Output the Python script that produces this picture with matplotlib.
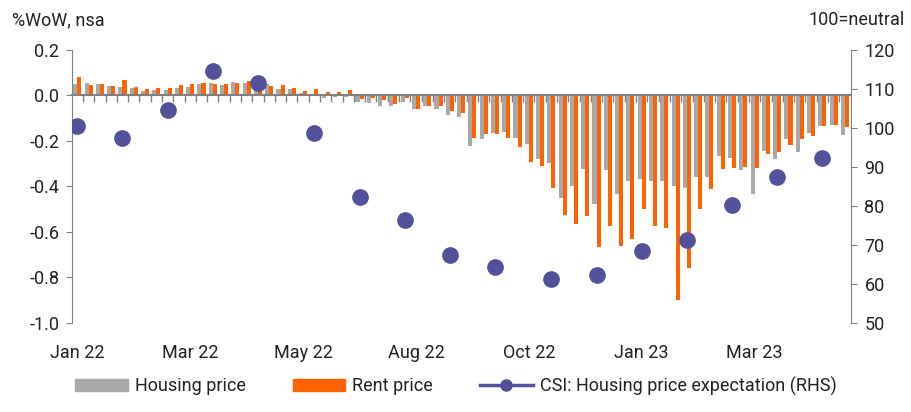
import matplotlib
matplotlib.use("Agg")
import matplotlib.pyplot as plt
import numpy as np
from matplotlib.patches import Patch
from matplotlib.lines import Line2D

# weekly % change, not seasonally adjusted
housing = [0.050, 0.054, 0.050, 0.041, 0.037, 0.032, 0.019, 0.024, 0.024, 0.032,
           0.037, 0.050, 0.054, 0.046, 0.059, 0.054, 0.040, 0.050, 0.028, 0.028,
           0.010, 0.006, -0.012, -0.007, -0.006, -0.029, -0.034, -0.047, -0.047, -0.029,
           -0.060, -0.047, -0.060, -0.087, -0.096, -0.224, -0.193, -0.166, -0.162, -0.188,
           -0.215, -0.281, -0.299, -0.453, -0.396, -0.325, -0.479, -0.329, -0.435, -0.374,
           -0.369, -0.378, -0.378, -0.396, -0.409, -0.360, -0.360, -0.268, -0.276, -0.329,
           -0.435, -0.246, -0.281, -0.193, -0.250, -0.166, -0.135, -0.131, -0.175]
rent = [0.081, 0.046, 0.050, 0.041, 0.068, 0.037, 0.028, 0.032, 0.032, 0.046,
        0.050, 0.054, 0.050, 0.050, 0.054, 0.062, 0.050, 0.041, 0.046, 0.032,
        0.019, 0.028, 0.015, 0.015, 0.024, -0.016, -0.012, -0.021, -0.038, -0.012,
        -0.060, -0.047, -0.047, -0.069, -0.078, -0.188, -0.171, -0.171, -0.188, -0.228,
        -0.294, -0.312, -0.409, -0.524, -0.563, -0.528, -0.665, -0.576, -0.660, -0.629,
        -0.501, -0.572, -0.581, -0.899, -0.757, -0.497, -0.413, -0.325, -0.321, -0.316,
        -0.321, -0.259, -0.250, -0.219, -0.193, -0.179, -0.135, -0.131, -0.140]

# monthly CSI reading, placed at the week it was published
csi_week = [0, 4, 8, 12, 16, 21, 25, 29, 33, 37, 42, 46, 50, 54, 58, 62, 66]
csi = [100.4, 97.5, 104.5, 114.6, 111.5, 98.6, 82.3, 76.4, 67.4, 64.3,
       61.4, 62.2, 68.4, 71.2, 80.3, 87.5, 92.4]

tick_weeks = [0, 10, 20, 30, 40, 50, 60]
tick_labels = ["Jan 22", "Mar 22", "May 22", "Aug 22", "Oct 22", "Jan 23", "Mar 23"]
left_ticks = [-1.0, -0.8, -0.6, -0.4, -0.2, 0.0, 0.2]
right_ticks = [50, 60, 70, 80, 90, 100, 110, 120]

GREY = "#a8a8a8"
ORANGE = "#ff6200"
INDIGO = "#525199"
AXIS = "#808080"
TEXT = "#222222"

plt.rcParams["font.family"] = ["Roboto", "DejaVu Sans"]
plt.rcParams["font.size"] = 13
plt.rcParams["text.color"] = TEXT

fig = plt.figure(figsize=(9.12, 4.12), dpi=100)
ax = fig.add_axes([0.0786, 0.216, 0.854, 0.663])

x = np.arange(len(housing))
ax.bar(x - 0.18, housing, 0.36, color=GREY, zorder=2)
ax.bar(x + 0.18, rent, 0.36, color=ORANGE, zorder=2)
ax.set_xlim(-0.5, len(housing) - 0.5)
ax.set_ylim(-1.0, 0.2)
ax.set_yticks(left_ticks, [f"{v:.1f}" for v in left_ticks])

for s in ["top", "right"]:
    ax.spines[s].set_visible(False)
ax.spines["left"].set_color(AXIS)
ax.spines["bottom"].set_position(("data", 0))
ax.spines["bottom"].set_color(AXIS)
ax.spines["bottom"].set_linewidth(1.5)
ax.spines["bottom"].set_zorder(3)
ax.set_xticks(x[:-1] + 0.5)
ax.set_xticklabels([])
ax.tick_params(axis="x", length=5, width=1, color=AXIS)
ax.tick_params(axis="y", length=4, color=AXIS, labelcolor=TEXT, pad=5)

sec = ax.secondary_xaxis("bottom")
sec.set_xticks(tick_weeks, tick_labels)
sec.tick_params(length=0, pad=15, labelcolor=TEXT)
sec.spines["bottom"].set_visible(False)

ax2 = ax.twinx()
ax2.plot(csi_week, csi, "o", ms=11, color=INDIGO, linestyle="none", zorder=4)
ax2.set_ylim(50, 120)
ax2.set_yticks(right_ticks)
for s in ["top", "bottom", "left"]:
    ax2.spines[s].set_visible(False)
ax2.spines["right"].set_color(AXIS)
ax2.tick_params(axis="y", length=4, color=AXIS, labelcolor=TEXT, pad=6)

fig.text(12 / 912, 1 - 20 / 412, "%WoW, nsa", ha="left", va="center")
fig.text(905 / 912, 1 - 20 / 412, "100=neutral", ha="right", va="center")

handles = [Patch(color=GREY), Patch(color=ORANGE),
           Line2D([0], [0], color=INDIGO, lw=2.5, marker="o", ms=8)]
labels = ["Housing price", "Rent price", "CSI: Housing price expectation (RHS)"]
fig.legend(handles, labels, loc="lower center", bbox_to_anchor=(0.5, 0.0), ncol=3,
           frameon=False, handlelength=2.9, columnspacing=2.6, handletextpad=0.4)

fig.savefig("out.png", dpi=100)
